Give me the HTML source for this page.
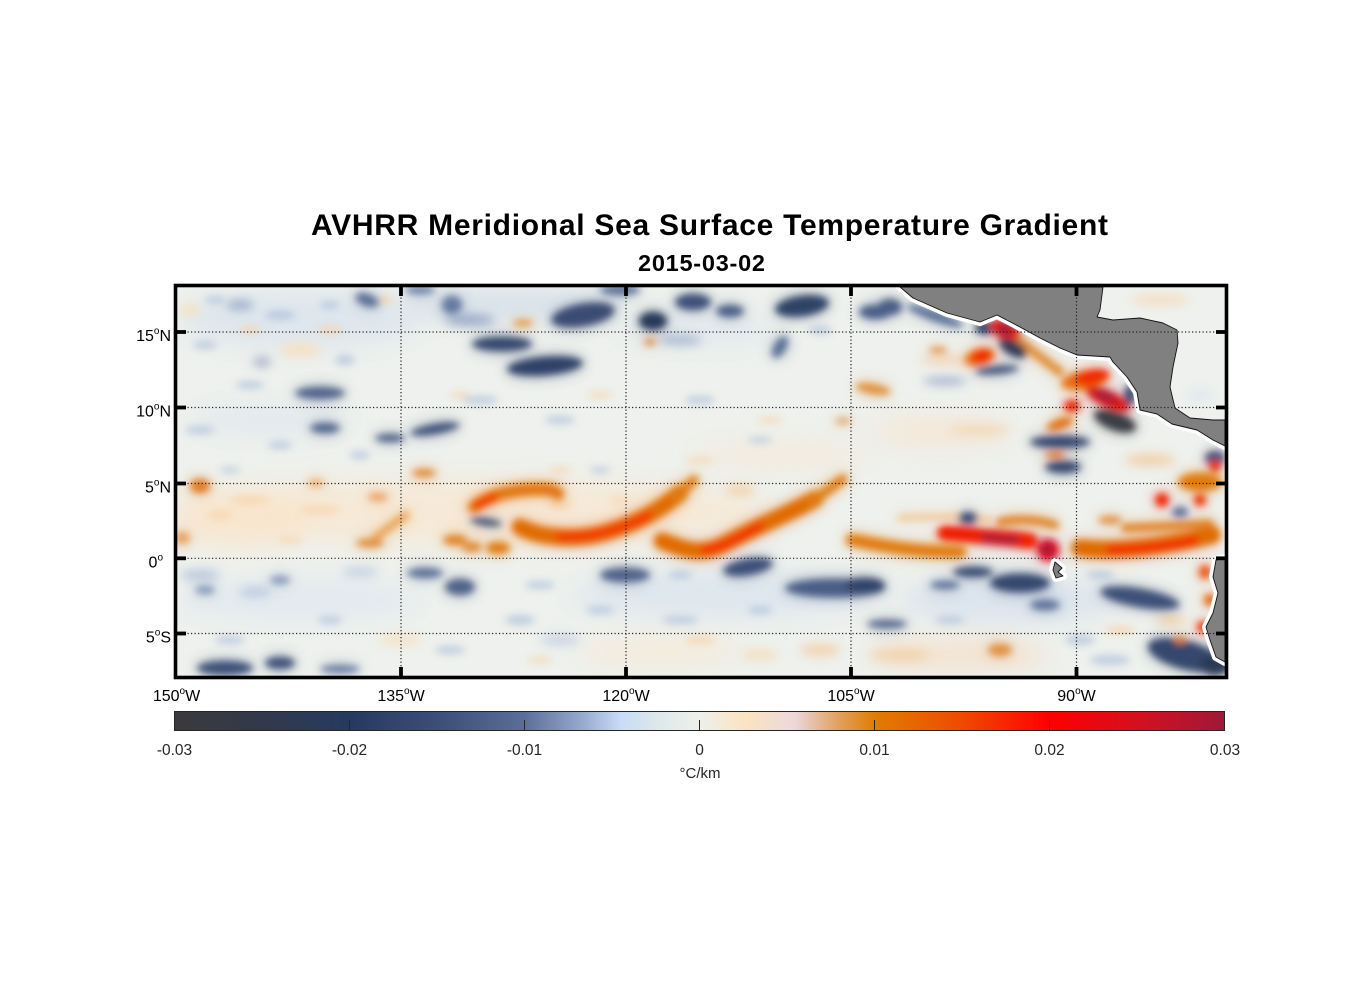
<!DOCTYPE html>
<html><head><meta charset="utf-8"><style>
html,body{margin:0;padding:0;background:#fff;}
svg{display:block;}
text{font-family:"Liberation Sans",Arial,sans-serif;}
</style></head><body>
<svg width="1356" height="1000" viewBox="0 0 1356 1000" xmlns="http://www.w3.org/2000/svg" xmlns:xlink="http://www.w3.org/1999/xlink">
<defs>
<clipPath id="pc"><rect x="177" y="287" width="1048" height="389"/></clipPath>
<filter id="f1" filterUnits="userSpaceOnUse" x="150" y="260" width="1100" height="440"><feGaussianBlur stdDeviation="3.8"/></filter>
<filter id="f2" filterUnits="userSpaceOnUse" x="150" y="260" width="1100" height="440"><feGaussianBlur stdDeviation="5"/></filter>
<filter id="fh" filterUnits="userSpaceOnUse" x="150" y="260" width="1100" height="440"><feGaussianBlur stdDeviation="8"/></filter>
<filter id="f3" filterUnits="userSpaceOnUse" x="150" y="260" width="1100" height="440"><feGaussianBlur stdDeviation="12"/></filter>
<linearGradient id="cb" x1="0" x2="1" y1="0" y2="0">
<stop offset="0" stop-color="#3a3a3c"/>
<stop offset="0.08" stop-color="#33394b"/>
<stop offset="0.167" stop-color="#263a60"/>
<stop offset="0.25" stop-color="#3a4e78"/>
<stop offset="0.333" stop-color="#5a6e98"/>
<stop offset="0.39" stop-color="#98acd0"/>
<stop offset="0.425" stop-color="#c8dcf6"/>
<stop offset="0.46" stop-color="#dde8ec"/>
<stop offset="0.5" stop-color="#eef0ea"/>
<stop offset="0.545" stop-color="#fbe3c2"/>
<stop offset="0.59" stop-color="#ecd8dc"/>
<stop offset="0.63" stop-color="#e0a466"/>
<stop offset="0.667" stop-color="#e07d00"/>
<stop offset="0.75" stop-color="#f04a00"/>
<stop offset="0.833" stop-color="#ff0000"/>
<stop offset="0.917" stop-color="#d4101f"/>
<stop offset="1" stop-color="#a01838"/>
</linearGradient>

<g id="feat">
<!-- top blues -->
<ellipse cx="583" cy="315" rx="32" ry="11" fill="#3a4c72" transform="rotate(-10 583 315)"/>
<ellipse cx="653" cy="321" rx="14" ry="9" fill="#263858"/>
<ellipse cx="693" cy="302" rx="18" ry="8" fill="#3d5078"/>
<ellipse cx="802" cy="306" rx="27" ry="10" fill="#2f4268" transform="rotate(-8 802 306)"/>
<ellipse cx="730" cy="311" rx="14" ry="6" fill="#4a5d85"/>
<ellipse cx="502" cy="344" rx="30" ry="7" fill="#34476d"/>
<ellipse cx="545" cy="366" rx="38" ry="9" fill="#2e4168" transform="rotate(-5 545 366)"/>
<ellipse cx="452" cy="305" rx="10" ry="9" fill="#6579a0"/>
<ellipse cx="435" cy="429" rx="25" ry="5" fill="#3d5078" transform="rotate(-10 435 429)"/>
<ellipse cx="390" cy="438" rx="15" ry="4" fill="#4a5d85"/>
<ellipse cx="780" cy="347" rx="6" ry="12" fill="#5a6e96" transform="rotate(30 780 347)"/>
<ellipse cx="875" cy="312" rx="16" ry="7" fill="#4a5d85"/>
<ellipse cx="367" cy="300" rx="12" ry="6" fill="#5a6e96" transform="rotate(20 367 300)"/>
<ellipse cx="320" cy="393" rx="25" ry="6" fill="#4f6289"/>
<ellipse cx="325" cy="428" rx="15" ry="5" fill="#4f6289"/>
<ellipse cx="620" cy="290" rx="20" ry="5" fill="#5a6e96"/>
<ellipse cx="420" cy="290" rx="15" ry="4" fill="#6a7ea6"/>
<!-- top oranges -->
<ellipse cx="523" cy="323" rx="10" ry="3" fill="#e8902e"/>
<ellipse cx="650" cy="342" rx="6" ry="3" fill="#d88030"/>
<ellipse cx="873" cy="389" rx="18" ry="5" fill="#e0903a" transform="rotate(10 873 389)"/>
<ellipse cx="843" cy="421" rx="8" ry="3" fill="#e0a060"/>
<ellipse cx="938" cy="350" rx="9" ry="3" fill="#e59040"/>

<!-- Central America coast -->
<ellipse cx="890" cy="307" rx="12" ry="8" fill="#4a5d85"/>
<ellipse cx="935" cy="316" rx="30" ry="5" fill="#5a6e96" transform="rotate(20 935 316)"/>
<ellipse cx="985" cy="328" rx="10" ry="6" fill="#2c3e63"/>
<path d="M1015,338 L1060,372" stroke="#e08a30" stroke-width="8" fill="none" stroke-linecap="round"/>
<ellipse cx="1005" cy="330" rx="16" ry="9" fill="#e8200a" transform="rotate(25 1005 330)"/>
<ellipse cx="1005" cy="329" rx="9" ry="6" fill="#a51a35"/>
<ellipse cx="1013" cy="348" rx="15" ry="7" fill="#2c3a55" transform="rotate(30 1013 348)"/>
<ellipse cx="980" cy="357" rx="15" ry="8" fill="#e86a10" transform="rotate(-15 980 357)"/>
<ellipse cx="982" cy="356" rx="10" ry="6" fill="#f02800" transform="rotate(-15 982 356)"/>
<ellipse cx="997" cy="370" rx="22" ry="4" fill="#3d5078" transform="rotate(-5 997 370)"/>
<ellipse cx="1085" cy="380" rx="24" ry="9" fill="#e87010" transform="rotate(-10 1085 380)"/>
<ellipse cx="1092" cy="377" rx="18" ry="7" fill="#f02800" transform="rotate(-10 1092 377)"/>
<ellipse cx="1108" cy="399" rx="24" ry="8" fill="#e01810" transform="rotate(25 1108 399)"/>
<ellipse cx="1105" cy="396" rx="12" ry="5" fill="#a01a38" transform="rotate(25 1105 396)"/>
<ellipse cx="1130" cy="395" rx="6" ry="10" fill="#3d5078"/>
<ellipse cx="1115" cy="421" rx="22" ry="9" fill="#3a3d45" transform="rotate(20 1115 421)"/>
<ellipse cx="1072" cy="406" rx="8" ry="6" fill="#f02000"/>
<ellipse cx="1060" cy="424" rx="14" ry="5" fill="#e07010" transform="rotate(-20 1060 424)"/>
<ellipse cx="1060" cy="442" rx="30" ry="6" fill="#34476d"/>
<ellipse cx="1055" cy="455" rx="10" ry="3" fill="#e07010"/>
<ellipse cx="1063" cy="467" rx="18" ry="6" fill="#34476d"/>
<ellipse cx="1215" cy="458" rx="10" ry="7" fill="#3d5078"/>
<ellipse cx="1215" cy="466" rx="6" ry="6" fill="#f03000"/>
<ellipse cx="1200" cy="482" rx="22" ry="9" fill="#e07a10"/>

<!-- equatorial bands (left) -->
<ellipse cx="200" cy="486" rx="10" ry="7" fill="#e07a20"/>
<ellipse cx="316" cy="483" rx="8" ry="4" fill="#f0b070"/>
<ellipse cx="424" cy="473" rx="12" ry="4" fill="#e08a30"/>
<ellipse cx="378" cy="497" rx="10" ry="4" fill="#eea060"/>
<path d="M376,537 L406,515" stroke="#e9a050" stroke-width="7" fill="none" stroke-linecap="round"/>
<ellipse cx="370" cy="543" rx="14" ry="4" fill="#e08a30"/>
<ellipse cx="182" cy="538" rx="8" ry="6" fill="#eaa060"/>
<ellipse cx="455" cy="540" rx="12" ry="5" fill="#e08020"/>
<ellipse cx="472" cy="547" rx="10" ry="5" fill="#e08a30"/>
<ellipse cx="498" cy="548" rx="12" ry="6" fill="#e07a10"/>
<ellipse cx="486" cy="522" rx="16" ry="3.5" fill="#3a4b70" transform="rotate(8 486 522)"/>

<!-- band A -->
<path d="M474,507 Q492,493 523,490 T558,494" stroke="#e27510" stroke-width="12" fill="none" stroke-linecap="round"/>
<path d="M477,505 L494,497" stroke="#f03a00" stroke-width="8" fill="none" stroke-linecap="round"/>
<!-- band B -->
<path d="M520,527 C540,538 580,542 613,530 C640,522 662,508 680,493" stroke="#e06a00" stroke-width="16" fill="none" stroke-linecap="round"/>
<path d="M675,498 L694,480" stroke="#e07a10" stroke-width="9" fill="none" stroke-linecap="round"/>
<path d="M560,537 C590,538 620,530 648,516" stroke="#f53000" stroke-width="8" fill="none" stroke-linecap="round"/>
<!-- band C -->
<path d="M662,541 C690,552 705,556 730,541 C760,525 790,513 815,499" stroke="#e06a00" stroke-width="16" fill="none" stroke-linecap="round"/>
<path d="M810,503 L843,479" stroke="#e07a10" stroke-width="9" fill="none" stroke-linecap="round"/>
<path d="M705,550 C720,548 735,540 760,526" stroke="#f52a00" stroke-width="8" fill="none" stroke-linecap="round"/>
<!-- band D/E -->
<path d="M852,540 C880,545 910,552 960,552" stroke="#e07a10" stroke-width="12" fill="none" stroke-linecap="round"/>
<path d="M945,533 C970,535 1000,537 1030,541" stroke="#f01e00" stroke-width="15" fill="none" stroke-linecap="round"/>
<path d="M985,538 L1015,540" stroke="#a81a36" stroke-width="8" fill="none" stroke-linecap="round"/>
<path d="M1000,522 C1020,518 1040,520 1055,525" stroke="#e08020" stroke-width="8" fill="none" stroke-linecap="round"/>
<path d="M900,518 C930,516 960,516 990,520" stroke="#f3c898" stroke-width="6" fill="none" stroke-linecap="round"/>
<ellipse cx="968" cy="518" rx="10" ry="6" fill="#3d5078"/>
<circle cx="1048" cy="550" r="11" fill="#e21020"/>
<circle cx="1047" cy="549" r="6" fill="#a01838"/>
<!-- band F -->
<path d="M1080,548 C1110,552 1150,548 1190,540 L1212,535" stroke="#e06a00" stroke-width="17" fill="none" stroke-linecap="round"/>
<path d="M1110,550 C1140,549 1170,546 1195,540" stroke="#f52200" stroke-width="8" fill="none" stroke-linecap="round"/>
<path d="M1125,528 C1150,527 1180,526 1210,524" stroke="#e08020" stroke-width="8" fill="none" stroke-linecap="round"/>
<circle cx="1162" cy="500" r="7" fill="#f02800"/>
<circle cx="1200" cy="500" r="6" fill="#f03000"/>
<ellipse cx="1180" cy="512" rx="8" ry="5" fill="#5a6e96"/>
<ellipse cx="1110" cy="520" rx="12" ry="4" fill="#e09040"/>

<!-- bottom blues -->
<ellipse cx="748" cy="567" rx="25" ry="8" fill="#3d5078" transform="rotate(-10 748 567)"/>
<ellipse cx="625" cy="575" rx="25" ry="7" fill="#4f6289"/>
<ellipse cx="835" cy="588" rx="50" ry="9" fill="#4a5d85"/>
<ellipse cx="865" cy="585" rx="20" ry="7" fill="#2f4268"/>
<ellipse cx="973" cy="572" rx="20" ry="5" fill="#34476d"/>
<ellipse cx="945" cy="585" rx="15" ry="4" fill="#5a6e96"/>
<ellipse cx="887" cy="624" rx="20" ry="4" fill="#4f6289"/>
<ellipse cx="1020" cy="583" rx="30" ry="9" fill="#34476d"/>
<ellipse cx="1045" cy="605" rx="15" ry="5" fill="#5a6e96"/>
<ellipse cx="1140" cy="598" rx="40" ry="9" fill="#3d5078" transform="rotate(10 1140 598)"/>
<ellipse cx="1185" cy="655" rx="38" ry="14" fill="#34476d" transform="rotate(15 1185 655)"/>
<ellipse cx="1215" cy="665" rx="15" ry="10" fill="#2c3a55"/>
<ellipse cx="225" cy="668" rx="28" ry="7" fill="#3d5078"/>
<ellipse cx="280" cy="663" rx="15" ry="6" fill="#3d5078"/>
<ellipse cx="340" cy="669" rx="20" ry="4" fill="#6579a0"/>
<ellipse cx="425" cy="573" rx="18" ry="5" fill="#5a6e96"/>
<ellipse cx="460" cy="587" rx="15" ry="8" fill="#4f6289"/>
<ellipse cx="280" cy="580" rx="10" ry="4" fill="#8094b8"/>
<ellipse cx="205" cy="590" rx="10" ry="4" fill="#8094b8"/>
<!-- bottom oranges -->
<ellipse cx="1000" cy="650" rx="12" ry="6" fill="#e09040"/>
<ellipse cx="1205" cy="572" rx="6" ry="7" fill="#f05010"/>
<ellipse cx="1210" cy="600" rx="6" ry="6" fill="#e86010"/>
<ellipse cx="1203" cy="627" rx="6" ry="6" fill="#f03000"/>
<ellipse cx="1180" cy="640" rx="6" ry="4" fill="#e08030"/>
</g>
</defs>

<!-- Titles -->
<text x="709.5" y="235" font-size="30" font-weight="bold" text-anchor="middle" textLength="797" lengthAdjust="spacing" fill="#000">AVHRR Meridional Sea Surface Temperature Gradient</text>
<text x="701.5" y="271" font-size="23.5" font-weight="bold" text-anchor="middle" textLength="127" lengthAdjust="spacing" fill="#000">2015-03-02</text>

<!-- Map field -->
<g clip-path="url(#pc)">
<rect x="177" y="287" width="1048" height="389" fill="#eef1ed"/>

<g filter="url(#f3)">
<ellipse cx="470" cy="512" rx="300" ry="32" fill="#fbe4c8" opacity="0.6"/>
<ellipse cx="240" cy="520" rx="70" ry="30" fill="#fde2c2" opacity="0.5"/>
<ellipse cx="300" cy="320" rx="120" ry="28" fill="#d3dfef" opacity="0.6"/>
<ellipse cx="510" cy="305" rx="110" ry="16" fill="#c9d7ea" opacity="0.6"/>
<ellipse cx="270" cy="420" rx="80" ry="14" fill="#d6e2f0" opacity="0.5"/>
<ellipse cx="300" cy="600" rx="120" ry="20" fill="#d8e4f2" opacity="0.55"/>
<ellipse cx="720" cy="595" rx="150" ry="22" fill="#d4e0f0" opacity="0.6"/>
<ellipse cx="1010" cy="600" rx="110" ry="22" fill="#cfdbee" opacity="0.6"/>
<ellipse cx="960" cy="655" rx="90" ry="14" fill="#f8dcc0" opacity="0.7"/>
<ellipse cx="660" cy="652" rx="80" ry="12" fill="#fbe6cc" opacity="0.6"/>
<ellipse cx="940" cy="432" rx="70" ry="14" fill="#fae0c5" opacity="0.6"/>
<ellipse cx="780" cy="455" rx="90" ry="12" fill="#fbe6cc" opacity="0.5"/>
<ellipse cx="700" cy="330" rx="80" ry="14" fill="#d6e2f0" opacity="0.5"/>
<ellipse cx="1160" cy="305" rx="50" ry="12" fill="#f6e2d0" opacity="0.5"/>
</g>

<g filter="url(#f2)">
<ellipse cx="240" cy="305" rx="14" ry="5" fill="#8094b8" opacity="0.7"/>
<ellipse cx="262" cy="362" rx="9" ry="5" fill="#7589b0" opacity="0.6"/>
<ellipse cx="470" cy="320" rx="25" ry="6" fill="#7d92ba" opacity="0.7"/>
<ellipse cx="680" cy="340" rx="22" ry="5" fill="#8ea2c6" opacity="0.7"/>
<ellipse cx="300" cy="350" rx="20" ry="6" fill="#fbdcb0" opacity="0.8"/>
<ellipse cx="190" cy="310" rx="10" ry="5" fill="#fbdcb0" opacity="0.8"/>
<ellipse cx="200" cy="575" rx="20" ry="6" fill="#a9bbd8" opacity="0.7"/>
<ellipse cx="255" cy="592" rx="16" ry="5" fill="#a9bbd8" opacity="0.7"/>
<ellipse cx="360" cy="572" rx="18" ry="5" fill="#b5c6e0" opacity="0.7"/>
<ellipse cx="560" cy="640" rx="20" ry="5" fill="#b5c6e0" opacity="0.7"/>
<ellipse cx="400" cy="640" rx="20" ry="5" fill="#fbdcb0" opacity="0.7"/>
<ellipse cx="820" cy="650" rx="20" ry="6" fill="#f2cba0" opacity="0.8"/>
<ellipse cx="760" cy="655" rx="18" ry="5" fill="#f6d8b0" opacity="0.8"/>
<ellipse cx="900" cy="655" rx="30" ry="7" fill="#f3cfa8" opacity="0.8"/>
<ellipse cx="950" cy="360" rx="30" ry="5" fill="#f3cfa8" opacity="0.7"/>
<ellipse cx="945" cy="381" rx="22" ry="4" fill="#8ea2c6" opacity="0.8"/>
<ellipse cx="980" cy="430" rx="30" ry="4" fill="#f3cfa8" opacity="0.8"/>
<ellipse cx="740" cy="490" rx="15" ry="5" fill="#f3c898" opacity="0.8"/>
<ellipse cx="1170" cy="620" rx="15" ry="5" fill="#f3c898" opacity="0.8"/>
<ellipse cx="1150" cy="460" rx="25" ry="6" fill="#f3c898" opacity="0.8"/>
</g>
<g filter="url(#f1)" opacity="0.75">
<g fill="#b0c2dc">
<ellipse cx="215" cy="300" rx="10" ry="4"/><ellipse cx="280" cy="315" rx="15" ry="5"/><ellipse cx="330" cy="305" rx="10" ry="4"/>
<ellipse cx="205" cy="345" rx="12" ry="4"/><ellipse cx="250" cy="385" rx="14" ry="4"/><ellipse cx="345" cy="360" rx="10" ry="5"/>
<ellipse cx="200" cy="430" rx="15" ry="4"/><ellipse cx="280" cy="445" rx="12" ry="4"/><ellipse cx="360" cy="455" rx="10" ry="4"/>
<ellipse cx="230" cy="470" rx="10" ry="3"/><ellipse cx="480" cy="400" rx="18" ry="4"/><ellipse cx="560" cy="420" rx="15" ry="4"/>
<ellipse cx="700" cy="400" rx="15" ry="4"/><ellipse cx="760" cy="440" rx="12" ry="3"/><ellipse cx="600" cy="470" rx="10" ry="3"/>
<ellipse cx="820" cy="330" rx="12" ry="4"/><ellipse cx="520" cy="620" rx="15" ry="5"/><ellipse cx="600" cy="610" rx="14" ry="4"/>
<ellipse cx="680" cy="620" rx="18" ry="4"/><ellipse cx="760" cy="610" rx="12" ry="4"/><ellipse cx="230" cy="640" rx="15" ry="4"/>
<ellipse cx="330" cy="620" rx="12" ry="4"/><ellipse cx="450" cy="650" rx="15" ry="4"/><ellipse cx="950" cy="620" rx="15" ry="4"/>
<ellipse cx="1080" cy="640" rx="15" ry="5"/><ellipse cx="1110" cy="660" rx="20" ry="5"/><ellipse cx="540" cy="585" rx="15" ry="4"/>
<ellipse cx="680" cy="575" rx="12" ry="4"/><ellipse cx="1100" cy="575" rx="14" ry="4"/>
</g>
<g fill="#f7d2a8">
<ellipse cx="250" cy="330" rx="10" ry="4"/><ellipse cx="330" cy="330" rx="12" ry="4"/><ellipse cx="385" cy="300" rx="8" ry="4"/>
<ellipse cx="460" cy="395" rx="10" ry="3"/><ellipse cx="600" cy="395" rx="12" ry="3"/><ellipse cx="770" cy="420" rx="12" ry="3"/>
<ellipse cx="700" cy="460" rx="14" ry="3"/><ellipse cx="560" cy="470" rx="10" ry="3"/><ellipse cx="250" cy="500" rx="20" ry="4"/>
<ellipse cx="320" cy="510" rx="20" ry="4"/><ellipse cx="560" cy="505" rx="12" ry="4"/><ellipse cx="620" cy="500" rx="10" ry="3"/>
<ellipse cx="290" cy="540" rx="12" ry="3"/><ellipse cx="700" cy="640" rx="15" ry="4"/><ellipse cx="540" cy="660" rx="12" ry="3"/>
<ellipse cx="1120" cy="630" rx="15" ry="4"/><ellipse cx="220" cy="515" rx="12" ry="4"/>
</g>
</g>

<use href="#feat" xlink:href="#feat" filter="url(#fh)" opacity="0.45"/>
<use href="#feat" xlink:href="#feat" filter="url(#f1)"/>

<!-- Land -->
<g stroke="#ffffff" stroke-width="8" fill="#ffffff" stroke-linejoin="round">
<path d="M900,287 L913,298 947,313 980,322 997,315 1020,327 1040,338 1060,348 1077,355 1110,357 1113,362 1127,377 1137,392 1140,410 1157,414 1172,424 1197,430 1213,440 1225,446 L1225,287 Z"/>
<path d="M1225,558 L1216,560 1213,577 1218,593 1213,613 1206,627 1210,640 1216,657 1225,662 Z"/>
<path d="M1055,562 L1062,568 1058,572 1063,576 1056,578 1053,570 Z"/>
</g>
<path d="M1103,287 L1100,310 1097,317 1113,320 1140,318 1163,323 1177,330 1178,343 1173,367 1170,387 1175,408 1190,418 1213,420 1225,420 L1225,287 Z" fill="#eef1ed"/>
<g fill="#808080" stroke="#111" stroke-width="0.9" stroke-linejoin="round">
<path d="M900,287 L913,298 947,313 980,322 997,315 1020,327 1040,338 1060,348 1077,355 1110,357 1113,362 1127,377 1137,392 1140,410 1157,414 1172,424 1197,430 1213,440 1225,446 L1225,420 1213,420 1190,418 1175,408 1170,387 1173,367 1178,343 1177,330 1163,323 1140,318 1113,320 1097,317 1100,310 1103,287 Z"/>
<path d="M1225,558 L1216,560 1213,577 1218,593 1213,613 1206,627 1210,640 1216,657 1225,662 Z"/>
<path d="M1055,562 L1062,568 1058,572 1063,576 1056,578 1053,570 Z"/>
</g>
<g filter="url(#f2)">
<ellipse cx="1160" cy="300" rx="30" ry="5" fill="#f6d8b8" opacity="0.8"/>
<ellipse cx="1200" cy="395" rx="15" ry="6" fill="#dde6f0" opacity="0.8"/>
</g>

<!-- gridlines -->
<g stroke="#222" stroke-width="1.2" stroke-dasharray="1.2 2.3" fill="none">
<line x1="401" y1="287" x2="401" y2="676"/>
<line x1="626" y1="287" x2="626" y2="676"/>
<line x1="851" y1="287" x2="851" y2="676"/>
<line x1="1076.5" y1="287" x2="1076.5" y2="676"/>
<line x1="177" y1="332" x2="1225" y2="332"/>
<line x1="177" y1="407.5" x2="1225" y2="407.5"/>
<line x1="177" y1="483.5" x2="1225" y2="483.5"/>
<line x1="177" y1="558.3" x2="1225" y2="558.3"/>
<line x1="177" y1="633.5" x2="1225" y2="633.5"/>
</g>
</g>

<!-- frame -->
<rect x="175.5" y="285.5" width="1051" height="392" fill="none" stroke="#000" stroke-width="3.6"/>
<g stroke="#000" stroke-width="3.8">
<line x1="177" y1="332" x2="186" y2="332"/><line x1="1216" y1="332" x2="1225" y2="332"/>
<line x1="177" y1="407.5" x2="186" y2="407.5"/><line x1="1216" y1="407.5" x2="1225" y2="407.5"/>
<line x1="177" y1="483.5" x2="186" y2="483.5"/><line x1="1216" y1="483.5" x2="1225" y2="483.5"/>
<line x1="177" y1="558.3" x2="186" y2="558.3"/><line x1="1216" y1="558.3" x2="1225" y2="558.3"/>
<line x1="177" y1="633.5" x2="186" y2="633.5"/><line x1="1216" y1="633.5" x2="1225" y2="633.5"/>
<line x1="401" y1="287" x2="401" y2="296"/><line x1="401" y1="667" x2="401" y2="676"/>
<line x1="626" y1="287" x2="626" y2="296"/><line x1="626" y1="667" x2="626" y2="676"/>
<line x1="851" y1="287" x2="851" y2="296"/><line x1="851" y1="667" x2="851" y2="676"/>
<line x1="1076.5" y1="287" x2="1076.5" y2="296"/><line x1="1076.5" y1="667" x2="1076.5" y2="676"/>
</g>

<!-- y labels -->
<g font-size="16" fill="#000" text-anchor="end">
<text x="171" y="341">15<tspan font-size="10" dy="-7">o</tspan><tspan dy="7">N</tspan></text>
<text x="171" y="416.5">10<tspan font-size="10" dy="-7">o</tspan><tspan dy="7">N</tspan></text>
<text x="171" y="492.5">5<tspan font-size="10" dy="-7">o</tspan><tspan dy="7">N</tspan></text>
<text x="163" y="567.3">0<tspan font-size="10" dy="-7">o</tspan></text>
<text x="171" y="642.5">5<tspan font-size="10" dy="-7">o</tspan><tspan dy="7">S</tspan></text>
</g>
<!-- x labels -->
<g font-size="16" fill="#000" text-anchor="middle">
<text x="176.5" y="701">150<tspan font-size="10" dy="-7">o</tspan><tspan dy="7">W</tspan></text>
<text x="401" y="701">135<tspan font-size="10" dy="-7">o</tspan><tspan dy="7">W</tspan></text>
<text x="626" y="701">120<tspan font-size="10" dy="-7">o</tspan><tspan dy="7">W</tspan></text>
<text x="851" y="701">105<tspan font-size="10" dy="-7">o</tspan><tspan dy="7">W</tspan></text>
<text x="1076.5" y="701">90<tspan font-size="10" dy="-7">o</tspan><tspan dy="7">W</tspan></text>
</g>

<!-- colorbar -->
<rect x="174.5" y="711.5" width="1050" height="19" fill="url(#cb)" stroke="#262626" stroke-width="1"/>
<g stroke="#262626" stroke-width="1">
<line x1="349.5" y1="720" x2="349.5" y2="730"/>
<line x1="524.5" y1="720" x2="524.5" y2="730"/>
<line x1="699.5" y1="720" x2="699.5" y2="730"/>
<line x1="874.5" y1="720" x2="874.5" y2="730"/>
<line x1="1049.5" y1="720" x2="1049.5" y2="730"/>
</g>
<g font-size="15.5" fill="#262626" text-anchor="middle">
<text x="174.5" y="755">-0.03</text>
<text x="349.5" y="755">-0.02</text>
<text x="524.5" y="755">-0.01</text>
<text x="699.5" y="755">0</text>
<text x="874.5" y="755">0.01</text>
<text x="1049.5" y="755">0.02</text>
<text x="1225" y="755">0.03</text>
<text x="700" y="778" font-size="15">°C/km</text>
</g>
</svg>
</body></html>
